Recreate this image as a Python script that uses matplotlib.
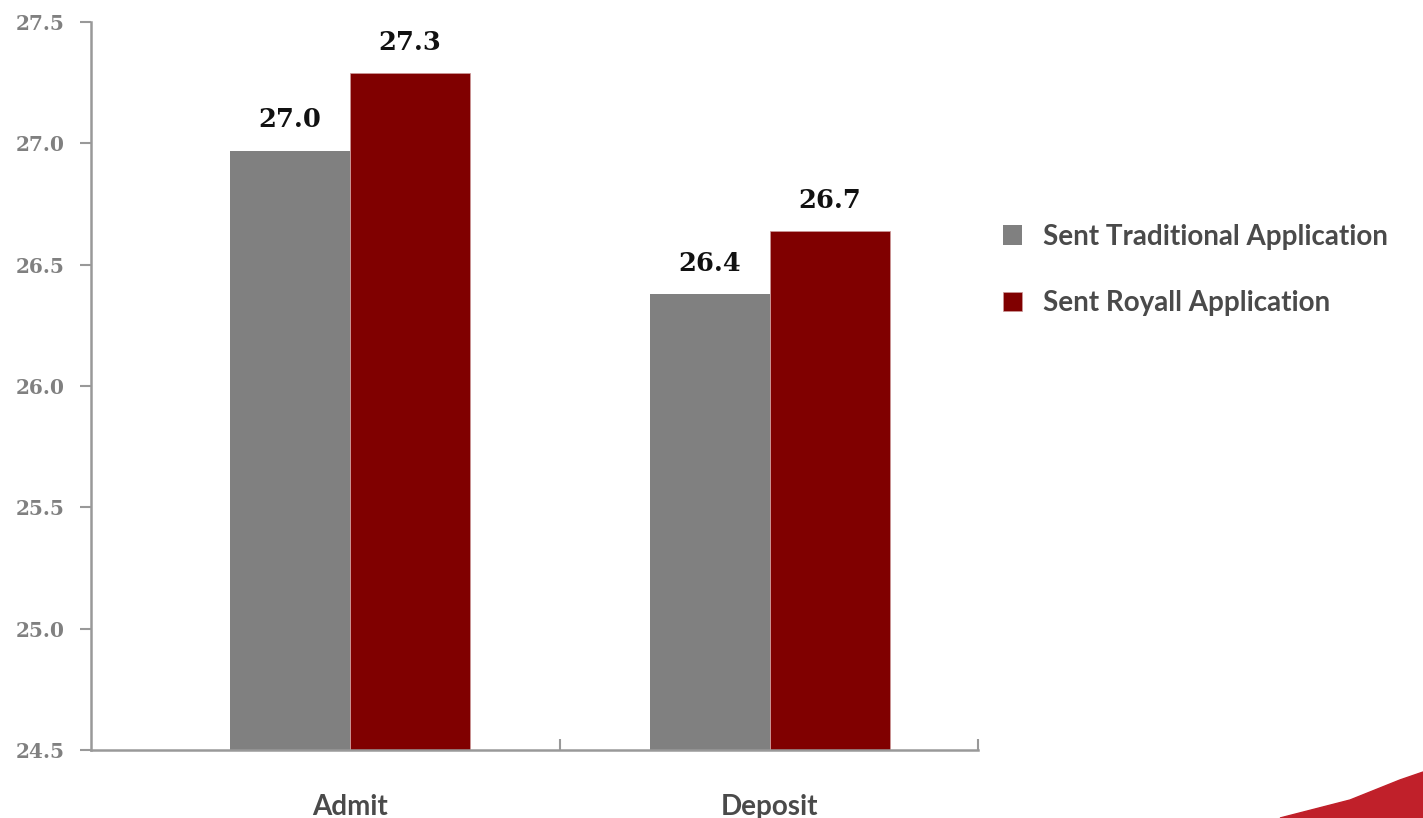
import matplotlib.pyplot as plt
from matplotlib.patches import Polygon

# data
categories = ["Admit", "Deposit"]
traditional = [26.97, 26.38]
royall = [27.29, 26.64]
traditional_labels = ["27.0", "26.4"]
royall_labels = ["27.3", "26.7"]
series_names = ["Sent Traditional Application", "Sent Royall Application"]

gray = "#808080"
maroon = "#800000"
text_dark = "#4a4a4a"

fig = plt.figure(figsize=(14.23, 8.18), dpi=100)
ax = fig.add_axes([0.064, 0.0831, 0.623, 0.890])

x = range(len(categories))
w = 0.286
b1 = ax.bar([i - w / 2 for i in x], [v - 24.5 for v in traditional], w, bottom=24.5,
            color=gray, label=series_names[0])
b2 = ax.bar([i + w / 2 for i in x], [v - 24.5 for v in royall], w, bottom=24.5,
            color=maroon, label=series_names[1], edgecolor="#cc9999", linewidth=0.5)

# value labels
for bars, labels in [(b1, traditional_labels), (b2, royall_labels)]:
    for rect, lab in zip(bars, labels):
        ax.text(rect.get_x() + rect.get_width() / 2, rect.get_y() + rect.get_height() + 0.075, lab,
                ha="center", va="bottom", family="DejaVu Serif", fontweight="bold",
                fontsize=18.5, color="#111111")

ax.set_ylim(24.5, 27.5)
ax.set_xlim(-0.617, 1.495)
yt = [24.5, 25.0, 25.5, 26.0, 26.5, 27.0, 27.5]
ax.set_yticks(yt)
ax.set_yticklabels(["%.1f" % v for v in yt], family="DejaVu Serif", fontweight="bold",
                   fontsize=14.5, color=gray)
ax.set_xticks(list(x))
ax.set_xticklabels(categories, family="Lato", fontweight="bold", fontsize=20, color=text_dark)
ax.set_xticks([0.5, 1.495], minor=True)
ax.tick_params(axis="x", which="major", length=0, pad=32)
ax.tick_params(axis="x", which="minor", length=8, width=1.5, color="#999999", direction="in")
ax.tick_params(axis="y", length=8, width=1.5, color="#999999", pad=11)

for s in ["top", "right"]:
    ax.spines[s].set_visible(False)
for s in ["left", "bottom"]:
    ax.spines[s].set_color("#999999")
    ax.spines[s].set_linewidth(1.8)

leg = fig.legend(handles=[b1, b2], loc="upper left", bbox_to_anchor=(0.687, 0.757),
                 frameon=False, prop={"family": "Lato", "weight": "bold", "size": 20},
                 labelspacing=1.45, handlelength=0.7, handleheight=0.7, handletextpad=0.75)
for t in leg.get_texts():
    t.set_color(text_dark)

# decorative swoosh in the corner
fig.patches.append(Polygon([[0.8995, 0.0], [0.9487, 0.022], [0.9838, 0.0465], [1.0, 0.0562],
                            [1.0, 0.0]],
                           closed=True, transform=fig.transFigure, color="#c0202a", zorder=0))

fig.savefig("out.png", dpi=100)
